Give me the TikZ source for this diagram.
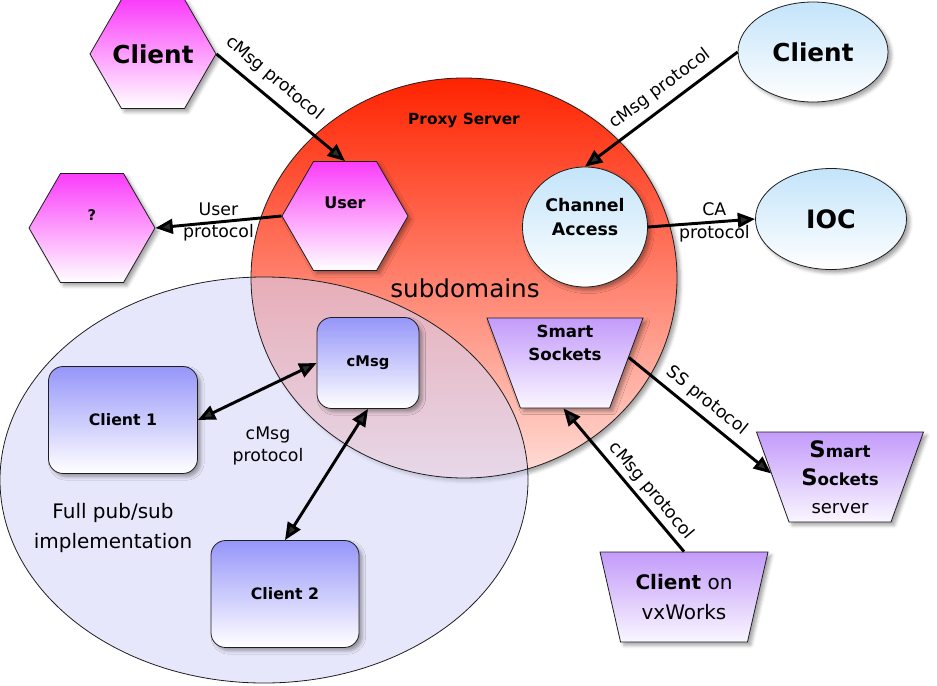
\documentclass[tikz,border=0pt]{standalone}
\usepackage{fontspec}
\setmainfont{DejaVu Sans}
\usetikzlibrary{shapes.geometric,arrows.meta,shadows.blur}
\newcommand\pxu{0.75pt}
\definecolor{hexTop}{RGB}{250,60,250}
\definecolor{ovTop}{RGB}{195,228,250}
\definecolor{boxTop}{RGB}{150,150,250}
\definecolor{trTop}{RGB}{195,155,250}
\definecolor{trBot}{RGB}{250,246,255}
\definecolor{pxTop}{RGB}{255,35,0}
\definecolor{pxBot}{RGB}{255,222,216}
\definecolor{pubFill}{RGB}{212,212,248}
\definecolor{edgeC}{RGB}{30,30,30}
\begin{document}
\begin{tikzpicture}[x=0.75pt,y=-0.75pt,
  shd/.style={blur shadow={shadow xshift=2.5pt,shadow yshift=-2.5pt,shadow blur radius=2.5pt,shadow opacity=35}},
  outl/.style={draw=edgeC,line width=0.6pt},
  hexa/.style={regular polygon,regular polygon sides=6,minimum size=126*\pxu,inner sep=0pt,outl,top color=hexTop,bottom color=white,shd},
  oval/.style={ellipse,inner sep=0pt,outl,top color=ovTop,bottom color=white,shd},
  rbox/.style={rectangle,rounded corners=11pt,inner sep=0pt,outl,top color=boxTop,bottom color=white,shd},
  trap/.style={trapezium,trapezium left angle=66,trapezium right angle=66,shape border rotate=180,trapezium stretches body,minimum height=90*\pxu,inner sep=0pt,outl,top color=trTop,bottom color=trBot,shd},
  bigb/.style={font=\bfseries\fontsize{18.5pt}{22pt}\selectfont},
  plab/.style={font=\fontsize{13pt}{17pt}\selectfont},
  arr/.style={line width=2.2pt,-{Triangle[length=13pt,width=11pt]}},
  darr/.style={line width=2.2pt,{Triangle[length=13pt,width=11pt]}-{Triangle[length=13pt,width=11pt]}}
]
\useasboundingbox (0,0) rectangle (937,685);
% regions
\shade[top color=pxTop,bottom color=pxBot,shd] (464,278) ellipse [x radius=213,y radius=200];
\fill[pubFill,fill opacity=0.55] (264,480) ellipse [x radius=264,y radius=203];
\draw[outl] (464,278) ellipse [x radius=213,y radius=200];
\draw[outl] (264,480) ellipse [x radius=264,y radius=203];
\node[font=\bfseries\fontsize{11.5pt}{14pt}\selectfont] (proxylbl) at (464,120) {Proxy Server};
\node[font=\fontsize{18.5pt}{22pt}\selectfont] (subdom) at (465,288) {subdomains};
\node[font=\fontsize{15pt}{22.5pt}\selectfont,align=center] (fullps) at (113,528) {Full pub/sub\\implementation};
% hexagons
\node[hexa,label={[bigb]center:Client}] (clA) at (153,54) {};
\node[hexa,label={[font=\bfseries\fontsize{11pt}{13pt}\selectfont,yshift=9.75pt]center:?}] (q) at (92,228) {};
\node[hexa,label={[font=\bfseries\fontsize{12pt}{14pt}\selectfont,yshift=9.75pt]center:User}] (user) at (345,216) {};
% ovals
\node[oval,minimum width=150*\pxu,minimum height=100*\pxu,bigb] (clB) at (813,52) {Client};
\node[oval,minimum width=125*\pxu,minimum height=120*\pxu,label={[font=\bfseries\fontsize{13pt}{18pt}\selectfont,align=center,yshift=7.5pt]center:Channel\\Access}] (ca) at (585,227) {};
\node[oval,minimum width=151*\pxu,minimum height=101*\pxu,font=\bfseries\fontsize{19pt}{22pt}\selectfont] (ioc) at (831,219) {IOC};
% rounded boxes
\node[rbox,minimum width=102*\pxu,minimum height=91*\pxu,font=\bfseries\fontsize{11pt}{13pt}\selectfont] (cmsg) at (368,363) {\raisebox{2pt}{cMsg}};
\node[rbox,minimum width=149*\pxu,minimum height=107*\pxu,font=\bfseries\fontsize{11.8pt}{14pt}\selectfont] (c1) at (123,420) {Client 1};
\node[rbox,minimum width=148*\pxu,minimum height=107*\pxu,font=\bfseries\fontsize{11.8pt}{14pt}\selectfont] (c2) at (285,594) {Client 2};
% trapezia
\node[trap,minimum width=156*\pxu,font=\bfseries\fontsize{12.5pt}{17pt}\selectfont,align=center] (ss) at (565,363) {Smart\\Sockets\\[13pt]~};
\node[trap,minimum width=167*\pxu,font=\bfseries\fontsize{12.5pt}{21pt}\selectfont,align=center] (srv) at (840,477) {{\fontsize{17pt}{21pt}\selectfont S}mart\\{\fontsize{17pt}{21pt}\selectfont S}ockets\\{\mdseries\fontsize{13.5pt}{21pt}\selectfont server}};
\node[trap,minimum width=168*\pxu,font=\fontsize{15pt}{21pt}\selectfont,align=center] (vx) at (684,597) {\raisebox{2pt}{\textbf{Client} on}\\vxWorks};
% connectors
\draw[arr] (clA.east) -- (user.north) node[plab,pos=0.36,above=3pt,sloped] {cMsg protocol};
\draw[arr] (user.west) -- (q.east) node[plab,midway,align=center] {User\\protocol};
\draw[arr] (clB.west) -- (ca.north) node[plab,pos=0.44,above=2pt,sloped] {cMsg protocol};
\draw[arr] (ca.east) -- (ioc.west) node[plab,pos=0.62,align=center] {CA\\protocol};
\draw[darr] (c1.east) -- (cmsg.west);
\draw[darr] (cmsg.south) -- (c2.north);
\node[plab,align=center] (cmsgproto) at (268,446) {cMsg\\protocol};
\draw[arr] (ss.5) -- (srv.177) node[plab,pos=0.48,above=1pt,sloped] {SS protocol};
\draw[arr] (vx.90) -- (ss.268) node[plab,pos=0.36,above,sloped] {cMsg protocol};
\end{tikzpicture}
\end{document}
